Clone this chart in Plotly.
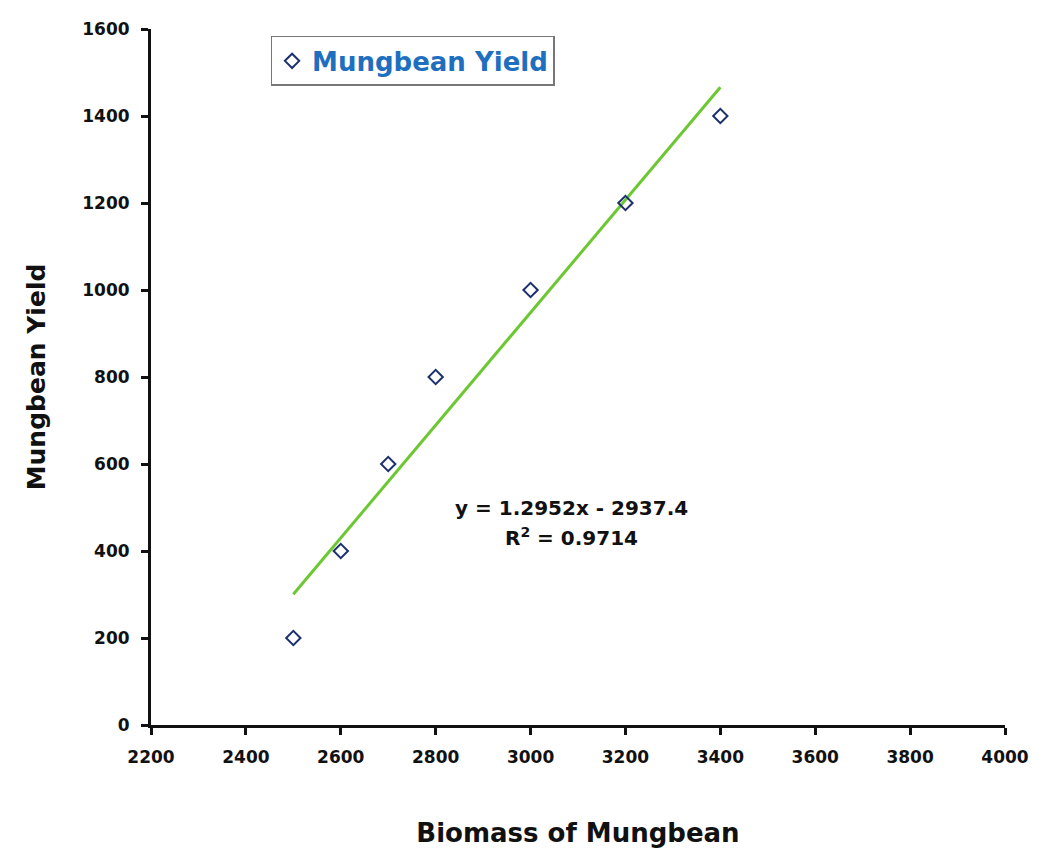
import plotly.graph_objects as go

biomass = [2500, 2600, 2700, 2800, 3000, 3200, 3400]
yield_vals = [200, 400, 600, 800, 1000, 1200, 1400]
slope = 1.2952
intercept = -2937.4
r2 = 0.9714
trend_x = [2500, 3400]
trend_y = [slope * v + intercept for v in trend_x]
x_ticks = [2200, 2400, 2600, 2800, 3000, 3200, 3400, 3600, 3800, 4000]
y_ticks = [0, 200, 400, 600, 800, 1000, 1200, 1400, 1600]

FONT = "DejaVu Sans, Liberation Sans, Arial"

fig = go.Figure()
fig.add_trace(go.Scatter(x=trend_x, y=trend_y, mode="lines",
                         line=dict(color="#6cc832", width=3), showlegend=False))
fig.add_trace(go.Scatter(x=biomass, y=yield_vals, mode="markers", name="<b>Mungbean Yield</b>",
                         marker=dict(symbol="diamond-open", size=11, color="#1c2f6e",
                                     line=dict(width=2, color="#1c2f6e"))))

fig.add_annotation(x=3086, y=499, xref="x", yref="y", showarrow=False,
                   xanchor="center", yanchor="middle",
                   text=f"<b>y = {slope}x - {abs(intercept)}</b>",
                   font=dict(family=FONT, size=20, color="#111"))
fig.add_annotation(x=3086, y=432, xref="x", yref="y", showarrow=False,
                   xanchor="center", yanchor="middle",
                   text=f"<b>R<sup>2</sup> = {r2}</b>",
                   font=dict(family=FONT, size=20, color="#111"))

axis_font = dict(family=FONT, size=17, color="#111", weight="bold")
fig.update_layout(
    width=1030, height=844,
    margin=dict(l=143, r=33, t=21, b=127),
    paper_bgcolor="white", plot_bgcolor="white",
    font=dict(family=FONT, color="#111"),
    xaxis=dict(range=[2200, 4000], tickvals=x_ticks, showgrid=False, zeroline=False,
               showline=True, linecolor="#111", linewidth=3, ticks="outside",
               ticklen=7, tickwidth=3, tickcolor="#111", automargin=False,
               ticklabeloverflow="allow",
               tickfont=axis_font, ticklabelstandoff=8,
               title=dict(text="<b>Biomass of Mungbean</b>", standoff=58,
                          font=dict(family=FONT, size=26, color="#111"))),
    yaxis=dict(range=[0, 1600], tickvals=y_ticks, showgrid=False, zeroline=False,
               showline=True, linecolor="#111", linewidth=3, ticks="outside",
               ticklen=7, tickwidth=3, tickcolor="#111", automargin=False,
               tickfont=axis_font, ticklabelstandoff=8,
               title=dict(text="<b>Mungbean Yield</b>", standoff=30,
                          font=dict(family=FONT, size=25, color="#111"))),
    legend=dict(x=0.14, y=0.99, xanchor="left", yanchor="top",
                bgcolor="white", bordercolor="#777", borderwidth=1.5,
                font=dict(family=FONT, size=26, color="#1f6fc0"),
                itemwidth=30),
)

fig.write_html("out.html")
